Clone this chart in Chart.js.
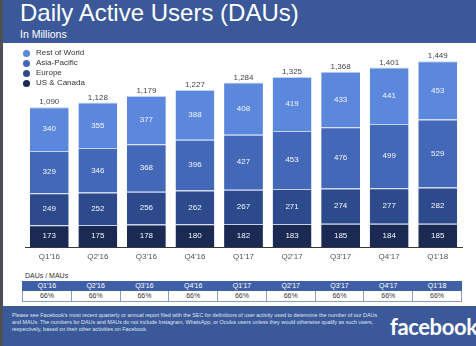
<!DOCTYPE html>
<html>
<head>
<meta charset="utf-8">
<script src="https://cdn.jsdelivr.net/npm/chart.js@4/dist/chart.umd.min.js"></script>
<style>
  body { margin: 0; width: 476px; height: 346px; overflow: hidden; background: #fff; position: relative;
         font-family: "Liberation Sans", Arial, sans-serif; }
  .edge { position: absolute; left: 0; top: 0; width: 3px; height: 346px; background: #4d4f55; z-index: 5; }
  #header { position: absolute; left: 0; top: 0; width: 476px; height: 43px; background: #3b5998; color: #fff; }
  #header h1 { position: absolute; left: 20px; top: 1px; margin: 0; font-size: 24px; line-height: 24px; font-weight: normal; white-space: nowrap; }
  #header .sub { position: absolute; left: 20px; top: 29px; font-size: 10.5px; line-height: 10.5px; }
  #legend { position: absolute; left: 22px; top: 48px; margin: 0; padding: 0; list-style: none; z-index: 2; }
  #legend li { height: 10px; line-height: 10px; font-size: 8px; color: #333; position: relative; padding-left: 14px; white-space: nowrap; }
  #legend li span { position: absolute; left: 1px; top: 1.5px; width: 7px; height: 7px; border-radius: 50%; }
  #wrap { position: absolute; left: 0; top: 43px; width: 476px; height: 228px; }
  #ratioTitle { position: absolute; left: 25px; top: 272px; font-size: 7px; line-height: 8px; color: #333; }
  #ratio { position: absolute; left: 22px; top: 281px; width: 440px; border-collapse: collapse; table-layout: fixed; }
  #ratio td { border: 1px solid #8a9cc4; text-align: center; font-size: 7px; padding: 0; color: #333; }
  #ratio tr.head td { background: #3f60a6; color: #fff; height: 8px; line-height: 8px; border-color: #3f60a6; }
  #ratio tr.vals td { height: 10px; line-height: 10px; }
  #footer { position: absolute; left: 0; top: 306px; width: 476px; height: 40px; background: #3b5998; }
  #footer .note { position: absolute; left: 12px; top: 5.5px; font-size: 5.4px; line-height: 7px; color: #dfe5f2; white-space: nowrap; }
  #footer .logo { position: absolute; left: 390px; top: 8px; font-family: Lato, sans-serif; font-weight: 700; font-size: 22px; line-height: 26px; color: #fff; letter-spacing: -0.4px; }
</style>
</head>
<body>
<div class="edge"></div>
<div id="header">
  <h1>Daily Active Users (DAUs)</h1>
  <div class="sub">In Millions</div>
</div>
<ul id="legend"></ul>
<div id="wrap"><canvas id="dau"></canvas></div>
<div id="ratioTitle">DAUs / MAUs</div>
<table id="ratio">
  <tr class="head"></tr>
  <tr class="vals"></tr>
</table>
<div id="footer">
  <div class="note">Please see Facebook's most recent quarterly or annual report filed with the SEC for definitions of user activity used to determine the number of our DAUs<br>and MAUs. The numbers for DAUs and MAUs do not include Instagram, WhatsApp, or Oculus users unless they would otherwise qualify as such users,<br>respectively, based on their other activities on Facebook.</div>
  <div class="logo">facebook</div>
</div>
<script>
// DAUs by region, millions
var quarters = ["Q1'16", "Q2'16", "Q3'16", "Q4'16", "Q1'17", "Q2'17", "Q3'17", "Q4'17", "Q1'18"];
var usCanada = [173, 175, 178, 180, 182, 183, 185, 184, 185];
var europe = [249, 252, 256, 262, 267, 271, 274, 277, 282];
var asiaPacific = [329, 346, 368, 396, 427, 453, 476, 499, 529];
var restOfWorld = [340, 355, 377, 388, 408, 419, 433, 441, 453];
var totals = ["1,090", "1,128", "1,179", "1,227", "1,284", "1,325", "1,368", "1,401", "1,449"];
var dauMauRatio = ["66%", "66%", "66%", "66%", "66%", "66%", "66%", "66%", "66%"];

var regionNames = ["US & Canada", "Europe", "Asia-Pacific", "Rest of World"];
var regionColors = ["#1b2a52", "#2c4a8c", "#4468b8", "#5b88dc"];

// numbers inside each segment plus the total above each bar
var barLabels = {
    id: 'barLabels',
    afterDatasetsDraw: function (chart) {
        var ctx = chart.ctx;
        ctx.save();
        ctx.font = '8px "Liberation Sans", Arial, sans-serif';
        ctx.textAlign = 'center';
        ctx.textBaseline = 'middle';
        ctx.fillStyle = '#f2f5fc';
        chart.data.datasets.forEach(function (ds, i) {
            chart.getDatasetMeta(i).data.forEach(function (bar, j) {
                ctx.fillText(ds.data[j], bar.x, (bar.y + bar.base) / 2);
            });
        });
        var top = chart.getDatasetMeta(chart.data.datasets.length - 1);
        ctx.fillStyle = '#444';
        top.data.forEach(function (bar, j) {
            ctx.fillText(totals[j], bar.x, bar.y - 5);
        });
        ctx.restore();
    }
};

// legend as a plain list, top series first
var htmlLegend = {
    id: 'htmlLegend',
    afterUpdate: function (chart) {
        var ul = document.getElementById('legend');
        ul.innerHTML = '';
        chart.data.datasets.slice().reverse().forEach(function (ds) {
            var li = document.createElement('li');
            var dot = document.createElement('span');
            dot.style.background = ds.backgroundColor;
            li.appendChild(dot);
            li.appendChild(document.createTextNode(ds.label));
            ul.appendChild(li);
        });
    }
};

function fillRatioTable() {
    var head = document.querySelector('#ratio tr.head');
    var vals = document.querySelector('#ratio tr.vals');
    quarters.forEach(function (q, i) {
        var th = document.createElement('td');
        th.textContent = q;
        head.appendChild(th);
        var td = document.createElement('td');
        td.textContent = dauMauRatio[i];
        vals.appendChild(td);
    });
}

function drawChart(canvas) {
    var series = [usCanada, europe, asiaPacific, restOfWorld];
    new Chart(canvas, {
        type: 'bar',
        data: {
            labels: quarters,
            datasets: series.map(function (values, i) {
                return {
                    label: regionNames[i],
                    data: values,
                    backgroundColor: regionColors[i],
                    borderColor: '#c3d1ef',
                    borderWidth: {top: 1, right: 0, bottom: 0, left: 0},
                    borderSkipped: 'start',
                    barPercentage: 0.8,
                    categoryPercentage: 1.0
                };
            })
        },
        options: {
            responsive: true,
            maintainAspectRatio: false,
            animation: false,
            layout: {
                padding: {top: 4, left: 25, right: 14, bottom: 4}
            },
            plugins: {
                legend: {
                    display: false
                },
                tooltip: {
                    enabled: false
                }
            },
            scales: {
                x: {
                    stacked: true,
                    grid: {
                        display: false,
                        drawTicks: false
                    },
                    border: {
                        display: true,
                        color: '#3a3a3a',
                        width: 1
                    },
                    ticks: {
                        padding: 5,
                        color: '#555',
                        font: {family: '"Liberation Sans", Arial, sans-serif', size: 8}
                    }
                },
                y: {
                    stacked: true,
                    display: false,
                    min: 0,
                    max: 1560
                }
            }
        },
        plugins: [barLabels, htmlLegend]
    });
}

fillRatioTable();
drawChart(document.getElementById('dau'));
</script>
</body>
</html>
